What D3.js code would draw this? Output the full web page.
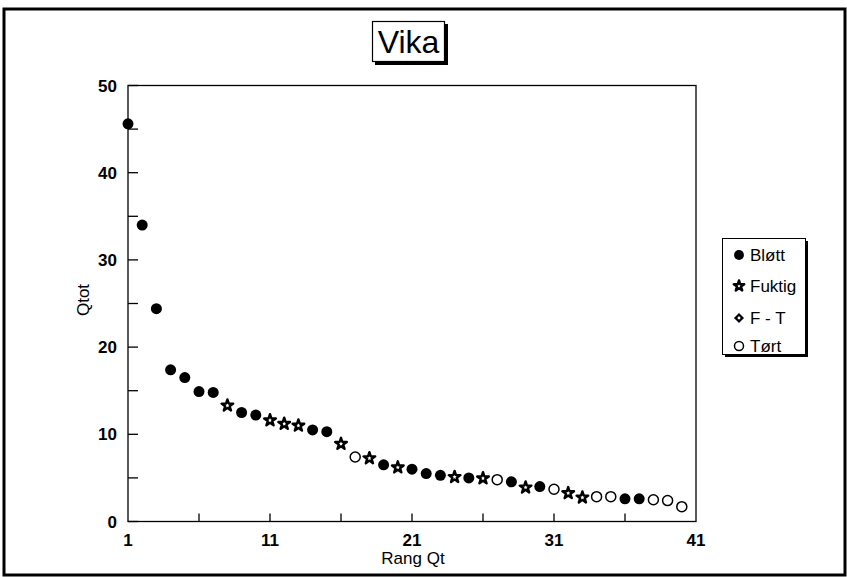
<!DOCTYPE html>
<html>
<head>
<meta charset="utf-8">
<script src="https://cdn.jsdelivr.net/npm/d3@7"></script>
<style>
  body { margin: 0; background: #fff; }
  text { font-family: "Liberation Sans", Arial, sans-serif; fill: #000; }
</style>
</head>
<body>
<div id="vis"></div>
<script>
// rank (Rang Qt) and Qtot
var rang = d3.range(1, 41);
var qtot = [45.6, 34.0, 24.4, 17.4, 16.5, 14.9, 14.8, 13.3, 12.5, 12.2,
            11.6, 11.2, 11.0, 10.5, 10.3, 8.9, 7.4, 7.25, 6.5, 6.2,
            6.0, 5.5, 5.3, 5.1, 5.0, 4.95, 4.8, 4.55, 3.9, 4.0,
            3.7, 3.25, 2.75, 2.85, 2.85, 2.6, 2.6, 2.5, 2.4, 1.7];
// B = Bløtt, F = Fuktig, FT = F - T, T = Tørt
var kategori = ["B","B","B","B","B","B","B","F","B","B",
                "F","F","F","B","B","F","T","F","B","F",
                "B","B","B","F","B","F","T","B","F","B",
                "T","F","F","T","T","B","B","T","T","T"];
var legendKeys = ["B", "F", "FT", "T"];
var legendLabels = ["Bløtt", "Fuktig", "F - T", "Tørt"];
var yTicks = [0, 10, 20, 30, 40, 50];
var yMinor = [5, 15, 25, 35, 45];
var xTickLabels = [1, 11, 21, 31, 41];
var xTicks = [6, 11, 16, 21, 26, 31, 36];

var width = 847, height = 577;
var svg = d3.select("#vis").append("svg")
    .attr("width", width)
    .attr("height", height);

// outer frame
svg.append("rect")
    .attr("x", 4).attr("y", 9)
    .attr("width", 841).attr("height", 566)
    .attr("fill", "none")
    .attr("stroke", "#000")
    .attr("stroke-width", 3);

var x = d3.scaleLinear().domain([1, 41]).range([128, 696]);
var y = d3.scaleLinear().domain([0, 50]).range([521.5, 85.5]);

// plot frame
svg.append("rect")
    .attr("x", x(1)).attr("y", y(50))
    .attr("width", x(41) - x(1)).attr("height", y(0) - y(50))
    .attr("fill", "none")
    .attr("stroke", "#000")
    .attr("stroke-width", 1.3);

// y ticks (inward)
svg.selectAll(".ytick")
    .data(yTicks.concat(yMinor))
    .enter().append("line")
    .attr("class", "ytick")
    .attr("x1", x(1)).attr("x2", x(1) + 10)
    .attr("y1", function(d) { return y(d); })
    .attr("y2", function(d) { return y(d); })
    .attr("stroke", "#000").attr("stroke-width", 1.3);

svg.selectAll(".ylabel")
    .data(yTicks)
    .enter().append("text")
    .attr("class", "ylabel")
    .attr("x", x(1) - 11)
    .attr("y", function(d) { return y(d) + 6; })
    .attr("text-anchor", "end")
    .style("font-size", "17px")
    .style("font-weight", "bold")
    .text(function(d) { return d; });

// x ticks (inward)
svg.selectAll(".xtick")
    .data(xTicks)
    .enter().append("line")
    .attr("class", "xtick")
    .attr("x1", function(d) { return x(d); })
    .attr("x2", function(d) { return x(d); })
    .attr("y1", y(0)).attr("y2", y(0) - 8)
    .attr("stroke", "#000").attr("stroke-width", 1.3);

svg.selectAll(".xlabel")
    .data(xTickLabels)
    .enter().append("text")
    .attr("class", "xlabel")
    .attr("x", function(d) { return x(d); })
    .attr("y", 546)
    .attr("text-anchor", "middle")
    .style("font-size", "17px")
    .style("font-weight", "bold")
    .text(function(d) { return d; });

// axis titles
svg.append("text")
    .attr("x", 413).attr("y", 564)
    .attr("text-anchor", "middle")
    .style("font-size", "17px")
    .text("Rang Qt");

svg.append("text")
    .attr("transform", "translate(89,300) rotate(-90)")
    .attr("text-anchor", "middle")
    .style("font-size", "17px")
    .text("Qtot");

// title box with shadow
svg.append("rect")
    .attr("x", 375).attr("y", 24).attr("width", 73).attr("height", 41)
    .attr("fill", "#000");
svg.append("rect")
    .attr("x", 372.5).attr("y", 21.5).attr("width", 72).attr("height", 40)
    .attr("fill", "#fff").attr("stroke", "#000").attr("stroke-width", 1.2);
svg.append("text")
    .attr("x", 408.5).attr("y", 53)
    .attr("text-anchor", "middle")
    .style("font-size", "32px")
    .text("Vika");

// markers
function drawMarker(sel, key, s) {
    s = s || 1;
    if (key === "B") {
        sel.append("circle").attr("r", 5.5 * s).attr("fill", "#000");
    } else if (key === "T") {
        sel.append("circle").attr("r", 5 * s).attr("fill", "#fff")
            .attr("stroke", "#000").attr("stroke-width", 1.5);
    } else if (key === "F") {
        sel.append("path")
            .attr("d", d3.symbol().type(d3.symbolStar).size(42 * s * s)())
            .attr("fill", "#fff").attr("stroke", "#000").attr("stroke-width", 2.4)
            .attr("stroke-linejoin", "round");
    } else {
        sel.append("path")
            .attr("d", d3.symbol().type(d3.symbolDiamond2).size(80 * s * s)())
            .attr("fill", "#000");
        sel.append("circle").attr("r", 1.6 * s).attr("fill", "#fff");
    }
}

var points = rang.map(function(r, i) { return { r: r, q: qtot[i], k: kategori[i] }; });
svg.selectAll(".pt")
    .data(points)
    .enter().append("g")
    .attr("class", "pt")
    .attr("transform", function(d) { return "translate(" + x(d.r) + "," + y(d.q) + ")"; })
    .each(function(d) { drawMarker(d3.select(this), d.k); });

// legend with shadow
svg.append("rect")
    .attr("x", 725).attr("y", 241).attr("width", 83).attr("height", 116)
    .attr("fill", "#000");
svg.append("rect")
    .attr("x", 722.5).attr("y", 238.5).attr("width", 83).attr("height", 116)
    .attr("fill", "#fff").attr("stroke", "#000").attr("stroke-width", 1);

var legendY = [255, 286, 318, 346];
var leg = svg.selectAll(".leg")
    .data(legendKeys)
    .enter().append("g")
    .attr("class", "leg")
    .attr("transform", function(d, i) { return "translate(739," + legendY[i] + ")"; });
leg.each(function(d) { drawMarker(d3.select(this), d, 0.9); });
leg.append("text")
    .attr("x", 11).attr("y", 6)
    .style("font-size", "17px")
    .text(function(d, i) { return legendLabels[i]; });
</script>
</body>
</html>
